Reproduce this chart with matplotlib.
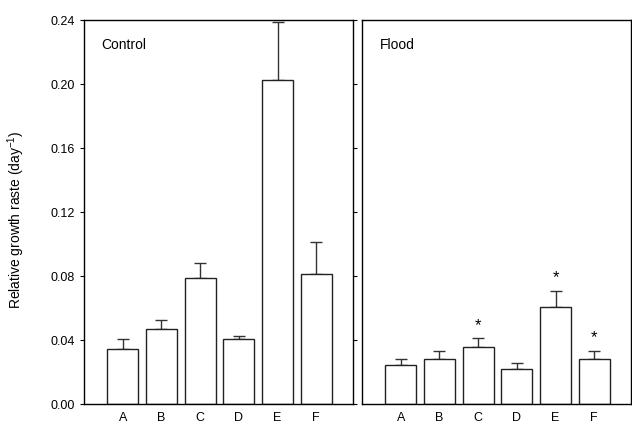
import matplotlib
matplotlib.use("Agg")
import matplotlib.pyplot as plt
import numpy as np

plt.rcParams['font.family'] = ['Liberation Sans', 'DejaVu Sans']

categories = ['A', 'B', 'C', 'D', 'E', 'F']
control_means = [0.0342, 0.0471, 0.0785, 0.0404, 0.2025, 0.0813]
control_err = [0.0064, 0.0052, 0.0094, 0.0019, 0.0360, 0.0197]
flood_means = [0.0242, 0.0281, 0.0356, 0.0217, 0.0604, 0.0279]
flood_err = [0.0041, 0.0050, 0.0054, 0.0037, 0.0103, 0.0052]
flood_signif = [False, False, True, False, True, True]
panel_titles = ['Control', 'Flood']
yticks = [0.00, 0.04, 0.08, 0.12, 0.16, 0.20, 0.24]

fig = plt.figure(figsize=(6.32, 4.23), dpi=100)
W, H = 632, 423
ax1 = fig.add_axes([84 / W, 1 - 404 / H, (353 - 84) / W, (404 - 20) / H])
ax2 = fig.add_axes([362 / W, 1 - 404 / H, (631 - 362) / W, (404 - 20) / H])

x = np.arange(len(categories))
for ax, means, errs, title in [(ax1, control_means, control_err, panel_titles[0]),
                               (ax2, flood_means, flood_err, panel_titles[1])]:
    ax.bar(x, means, width=0.8, color='white', edgecolor='#222222', linewidth=1.0, zorder=2)
    ax.errorbar(x, means, yerr=[np.zeros(len(means)), errs], fmt='none',
                ecolor='#333333', elinewidth=1.0, capsize=4.3, capthick=1.0, zorder=1)
    ax.set_xlim(-1.0, 5.95)
    ax.set_ylim(0, 0.24)
    ax.set_xticks(x)
    ax.set_xticklabels(categories, fontsize=9)
    ax.tick_params(axis='x', length=0, pad=6)
    ax.set_yticks(yticks)
    ax.text(0.065, 0.953, title, transform=ax.transAxes, fontsize=10, va='top', ha='left')
    for s in ax.spines.values():
        s.set_linewidth(1.0)
        s.set_color('black')

ax1.set_yticklabels([f'{v:.2f}' for v in yticks], fontsize=9)
ax1.tick_params(axis='y', direction='out', length=3, left=True, right=True, labelleft=True)
ax1.set_ylabel('Relative growth raste (day$^{\\mathregular{-1}}$)', fontsize=10, labelpad=17)
ax1.yaxis.label.set_y(0.48)

ax2.tick_params(axis='y', direction='out', length=3, left=False, right=True,
                labelleft=False, labelright=False)

for i, sig in enumerate(flood_signif):
    if sig:
        ax2.annotate('*', xy=(x[i], flood_means[i] + flood_err[i]), xytext=(0, 4),
                     textcoords='offset points', ha='center', va='bottom', fontsize=12)

fig.savefig('out.png', dpi=100)
